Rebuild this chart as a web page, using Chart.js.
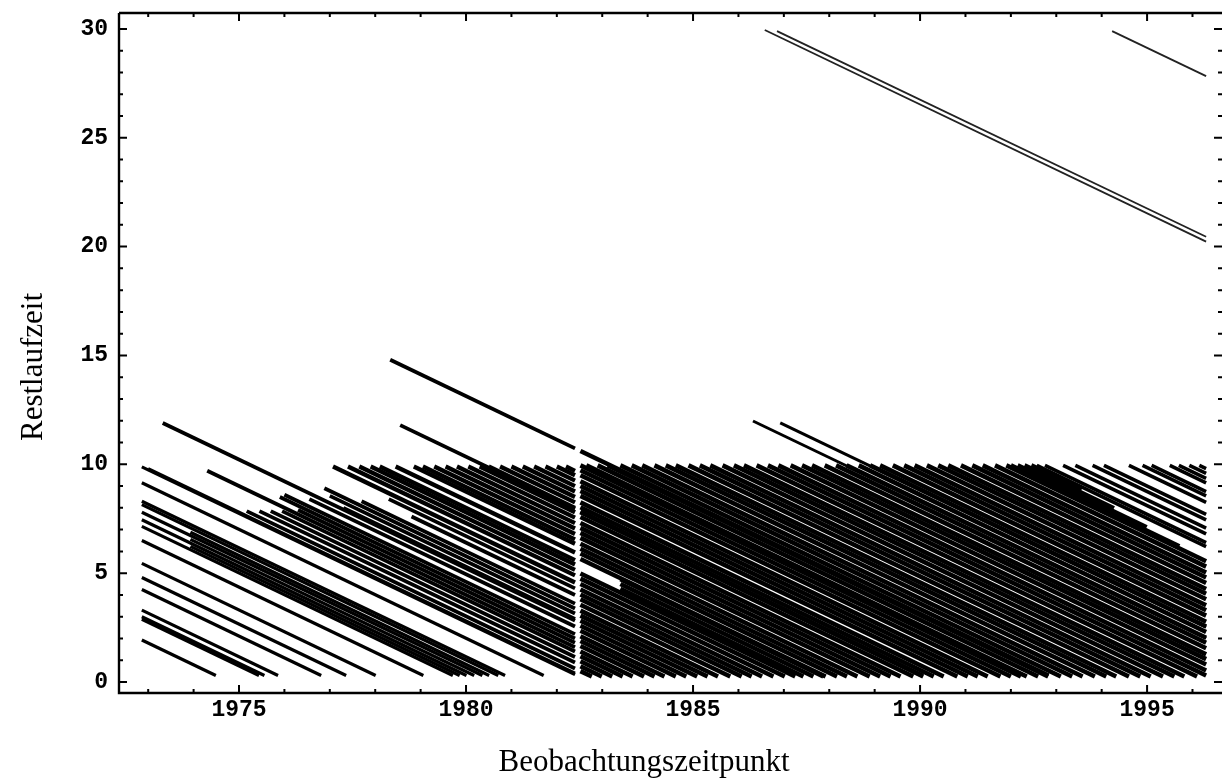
<!DOCTYPE html>
<html>
<head>
<meta charset="utf-8">
<script src="https://cdn.jsdelivr.net/npm/chart.js@4.4.1/dist/chart.umd.min.js"></script>
<style>
html,body{margin:0;padding:0;background:#fff;}
canvas{display:block;}
</style>
</head>
<body>
<canvas id="c" width="1224" height="780"></canvas>
<script>
// ---- axis ticks & titles ----
const xMajorTicks = [1975, 1980, 1985, 1990, 1995];
const xMinorTicks = [1973,1974,1975,1976,1977,1978,1979,1980,1981,1982,1983,1984,1985,1986,1987,1988,1989,1990,1991,1992,1993,1994,1995,1996];
const yMajorTicks = [0, 5, 10, 15, 20, 25, 30];
const yMinorTicks = [0,1,2,3,4,5,6,7,8,9,10,11,12,13,14,15,16,17,18,19,20,21,22,23,24,25,26,27,28,29,30];
const xTitle = 'Beobachtungszeitpunkt';
const yTitle = 'Restlaufzeit';

// ---- data: each entry = [startTime, startRestlaufzeit, endTime, endRestlaufzeit] ----
// bonds already outstanding when observation starts (1972/73)
const earlyStockLines = [
  [1972.86, 9.88, 1982.40, 0.34],
  [1973.00, 9.80, 1982.40, 0.40],
  [1972.86, 9.15, 1981.71, 0.30],
  [1972.86, 8.30, 1980.86, 0.30],
  [1972.86, 8.15, 1980.71, 0.30],
  [1973.93, 6.88, 1980.51, 0.30],
  [1972.86, 7.80, 1980.36, 0.30],
  [1973.93, 6.55, 1980.18, 0.30],
  [1972.86, 7.45, 1980.01, 0.30],
  [1973.93, 6.23, 1979.86, 0.30],
  [1972.86, 7.15, 1979.71, 0.30],
  [1972.86, 6.50, 1979.06, 0.30],
  [1972.86, 5.45, 1978.01, 0.30],
  [1972.86, 4.80, 1977.36, 0.30],
  [1972.86, 4.25, 1976.81, 0.30],
  [1972.86, 3.30, 1975.86, 0.30],
  [1972.86, 3.00, 1975.56, 0.30],
  [1972.86, 2.88, 1975.44, 0.30],
  [1972.86, 1.93, 1974.49, 0.30]
];
// other issues before the 1982 break
const earlyIssueLines = [
  [1973.32, 11.90, 1982.40, 2.82],
  [1974.30, 9.70, 1982.40, 1.60],
  [1975.17, 7.85, 1982.40, 0.62],
  [1975.45, 7.85, 1982.40, 0.90],
  [1975.70, 7.85, 1982.40, 1.15],
  [1975.95, 7.85, 1982.40, 1.40],
  [1976.30, 7.90, 1982.40, 1.80],
  [1975.90, 8.50, 1982.40, 2.00],
  [1976.00, 8.60, 1982.40, 2.20],
  [1976.55, 8.40, 1982.40, 2.55],
  [1976.88, 8.90, 1982.40, 3.38],
  [1977.00, 8.55, 1982.40, 3.15],
  [1977.30, 8.00, 1982.40, 2.90],
  [1977.70, 8.30, 1982.40, 3.60],
  [1978.30, 8.40, 1982.40, 4.30],
  [1978.80, 7.60, 1982.40, 4.00],
  [1978.33, 14.80, 1982.40, 10.73],
  [1978.55, 11.80, 1982.40, 7.95]
];
// ten-year issues before the break
const early10yLines = [
  [1977.07, 9.90, 1982.40, 4.57],
  [1977.40, 9.90, 1982.40, 4.90],
  [1977.65, 9.90, 1982.40, 5.15],
  [1977.90, 9.90, 1982.40, 5.40],
  [1978.10, 9.90, 1982.40, 5.60],
  [1978.45, 9.90, 1982.40, 5.95],
  [1978.85, 9.90, 1982.40, 6.35],
  [1979.05, 9.90, 1982.40, 6.55],
  [1979.30, 9.90, 1982.40, 6.80],
  [1979.55, 9.90, 1982.40, 7.05],
  [1979.80, 9.90, 1982.40, 7.30],
  [1980.05, 9.90, 1982.40, 7.55],
  [1980.30, 9.90, 1982.40, 7.80],
  [1980.50, 9.90, 1982.40, 8.00],
  [1980.75, 9.90, 1982.40, 8.25],
  [1981.00, 9.90, 1982.40, 8.50],
  [1981.25, 9.90, 1982.40, 8.75],
  [1981.50, 9.90, 1982.40, 9.00],
  [1981.75, 9.90, 1982.40, 9.25],
  [1982.00, 9.90, 1982.40, 9.50],
  [1982.20, 9.90, 1982.40, 9.70]
];
// bonds outstanding right after the 1982 break
const lateStockLines = [
  [1982.52, 9.95, 1992.22, 0.25],
  [1982.52, 9.73, 1992.00, 0.25],
  [1982.52, 9.50, 1991.77, 0.25],
  [1982.52, 9.22, 1991.49, 0.25],
  [1982.52, 9.00, 1991.27, 0.25],
  [1982.52, 8.78, 1991.05, 0.25],
  [1982.52, 8.55, 1990.82, 0.25],
  [1982.52, 8.25, 1990.52, 0.25],
  [1982.52, 8.03, 1990.30, 0.25],
  [1982.52, 7.80, 1990.07, 0.25],
  [1982.52, 7.58, 1989.85, 0.25],
  [1982.52, 7.30, 1989.57, 0.25],
  [1982.52, 7.08, 1989.35, 0.25],
  [1982.52, 6.85, 1989.12, 0.25],
  [1982.52, 6.62, 1988.89, 0.25],
  [1982.52, 6.35, 1988.62, 0.25],
  [1982.52, 6.12, 1988.39, 0.25],
  [1982.52, 5.90, 1988.17, 0.25],
  [1982.52, 5.65, 1987.92, 0.25],
  [1982.52, 4.98, 1987.25, 0.25],
  [1982.52, 4.75, 1987.02, 0.25],
  [1982.52, 4.50, 1986.77, 0.25],
  [1982.52, 4.25, 1986.52, 0.25],
  [1982.52, 4.02, 1986.29, 0.25],
  [1982.52, 3.80, 1986.07, 0.25],
  [1982.52, 3.55, 1985.82, 0.25],
  [1982.52, 3.28, 1985.55, 0.25],
  [1982.52, 3.05, 1985.32, 0.25],
  [1982.52, 2.82, 1985.09, 0.25],
  [1982.52, 2.58, 1984.85, 0.25],
  [1982.52, 2.35, 1984.62, 0.25],
  [1982.52, 2.10, 1984.37, 0.25],
  [1982.52, 1.88, 1984.15, 0.25],
  [1982.52, 1.65, 1983.92, 0.25],
  [1982.52, 1.40, 1983.67, 0.25],
  [1982.52, 1.18, 1983.45, 0.25],
  [1982.52, 0.95, 1983.22, 0.25],
  [1982.52, 0.72, 1982.99, 0.25],
  [1982.52, 0.50, 1982.77, 0.25],
  [1982.52, 10.61, 1992.83, 0.30],
  [1982.52, 7.83, 1990.05, 0.30],
  [1983.40, 4.72, 1987.87, 0.25],
  [1983.40, 4.50, 1987.65, 0.25],
  [1983.40, 4.28, 1987.43, 0.25]
];
// ten-year issues after the break
const late10yLines = [
  [1982.65, 9.95, 1992.35, 0.25],
  [1982.90, 9.95, 1992.60, 0.25],
  [1983.12, 9.95, 1992.82, 0.25],
  [1983.40, 9.95, 1993.10, 0.25],
  [1983.65, 9.95, 1993.35, 0.25],
  [1983.88, 9.95, 1993.58, 0.25],
  [1984.15, 9.95, 1993.85, 0.25],
  [1984.40, 9.95, 1994.10, 0.25],
  [1984.62, 9.95, 1994.32, 0.25],
  [1984.90, 9.95, 1994.60, 0.25],
  [1985.15, 9.95, 1994.85, 0.25],
  [1985.38, 9.95, 1995.08, 0.25],
  [1985.65, 9.95, 1995.35, 0.25],
  [1985.90, 9.95, 1995.60, 0.25],
  [1986.12, 9.95, 1995.82, 0.25],
  [1986.40, 9.95, 1996.10, 0.25],
  [1986.65, 9.95, 1996.30, 0.30],
  [1986.88, 9.95, 1996.30, 0.53],
  [1987.15, 9.95, 1996.30, 0.80],
  [1987.40, 9.95, 1996.30, 1.05],
  [1987.62, 9.95, 1996.30, 1.27],
  [1987.90, 9.95, 1996.30, 1.55],
  [1988.15, 9.95, 1996.30, 1.80],
  [1988.38, 9.95, 1996.30, 2.03],
  [1988.65, 9.95, 1996.30, 2.30],
  [1988.90, 9.95, 1996.30, 2.55],
  [1989.12, 9.95, 1996.30, 2.77],
  [1989.40, 9.95, 1996.30, 3.05],
  [1989.65, 9.95, 1996.30, 3.30],
  [1989.88, 9.95, 1996.30, 3.53],
  [1990.15, 9.95, 1996.30, 3.80],
  [1990.40, 9.95, 1996.30, 4.05],
  [1990.62, 9.95, 1996.30, 4.27],
  [1990.90, 9.95, 1996.30, 4.55],
  [1991.15, 9.95, 1996.30, 4.80],
  [1991.38, 9.95, 1996.30, 5.03],
  [1991.65, 9.95, 1996.30, 5.30],
  [1991.90, 9.95, 1996.30, 5.55],
  [1992.00, 9.95, 1995.71, 6.24],
  [1992.15, 9.95, 1994.99, 7.11],
  [1992.30, 9.95, 1994.27, 7.98],
  [1992.45, 9.95, 1993.56, 8.84]
];
// separate recent issues (upper right)
const recentIssueLines = [
  [1992.57, 9.95, 1996.30, 6.22],
  [1992.75, 9.95, 1996.30, 6.40],
  [1993.15, 9.95, 1996.30, 6.80],
  [1993.42, 9.95, 1996.30, 7.07],
  [1993.80, 9.95, 1996.30, 7.45],
  [1994.05, 9.95, 1996.30, 7.70],
  [1994.60, 9.95, 1996.30, 8.25],
  [1994.90, 9.95, 1996.30, 8.55],
  [1995.10, 9.95, 1996.30, 8.75],
  [1995.50, 9.95, 1996.30, 9.15],
  [1995.70, 9.95, 1996.30, 9.35],
  [1995.93, 9.95, 1996.30, 9.58],
  [1996.15, 9.95, 1996.30, 9.80]
];
// long maturities (12 and 30 years)
const longIssueLines = [
  [1986.32, 11.99, 1996.30, 2.01],
  [1986.92, 11.90, 1996.30, 2.52]
];
const thirtyYearLines = [
  [1986.58, 29.95, 1996.30, 20.23],
  [1986.85, 29.90, 1996.30, 20.45],
  [1994.23, 29.90, 1996.30, 27.83]
];

const groups = [
  { lines: earlyStockLines, width: 3.2, color: '#000' },
  { lines: earlyIssueLines, width: 3.8, color: '#000' },
  { lines: early10yLines, width: 4.3, color: '#000' },
  { lines: lateStockLines, width: 4.5, color: '#000' },
  { lines: late10yLines, width: 4.5, color: '#000' },
  { lines: recentIssueLines, width: 3.6, color: '#000' },
  { lines: longIssueLines, width: 3, color: '#000' },
  { lines: thirtyYearLines, width: 1.8, color: '#222' }
];

const datasets = [];
groups.forEach(g => {
  g.lines.forEach(l => {
    datasets.push({
      data: [{ x: l[0], y: l[1] }, { x: l[2], y: l[3] }],
      borderColor: g.color,
      backgroundColor: g.color,
      borderWidth: g.width,
      borderCapStyle: 'butt',
      pointRadius: 0,
      pointHoverRadius: 0,
      fill: false,
      tension: 0
    });
  });
});

const framePlugin = {
  id: 'frame',
  afterDraw(chart) {
    const ctx = chart.ctx;
    const a = chart.chartArea;
    const xs = chart.scales.x, ys = chart.scales.y;
    ctx.save();
    ctx.strokeStyle = '#000';
    ctx.lineCap = 'butt';
    ctx.lineWidth = 2.4;
    ctx.beginPath();
    ctx.moveTo(a.left, a.top);
    ctx.lineTo(a.left, a.bottom);
    ctx.lineTo(a.right, a.bottom);
    ctx.moveTo(a.left, a.top);
    ctx.lineTo(a.right, a.top);
    ctx.stroke();
    ctx.lineWidth = 2;
    ctx.beginPath();
    xMinorTicks.forEach(v => {
      const px = xs.getPixelForValue(v);
      const L = xMajorTicks.includes(v) ? 8 : 4;
      ctx.moveTo(px, a.bottom); ctx.lineTo(px, a.bottom - L);
      ctx.moveTo(px, a.top); ctx.lineTo(px, a.top + L);
    });
    yMinorTicks.forEach(v => {
      const py = ys.getPixelForValue(v);
      const L = yMajorTicks.includes(v) ? 8 : 4;
      ctx.moveTo(a.left, py); ctx.lineTo(a.left + L, py);
      ctx.moveTo(a.right, py); ctx.lineTo(a.right - L, py);
    });
    ctx.stroke();
    ctx.fillStyle = '#000';
    ctx.font = '31px "Liberation Serif", "Times New Roman", serif';
    ctx.textAlign = 'center';
    ctx.textBaseline = 'alphabetic';
    ctx.fillText(xTitle, 644, 771);
    ctx.translate(42, 367);
    ctx.rotate(-Math.PI / 2);
    ctx.fillText(yTitle, 0, 0);
    ctx.restore();
  }
};

const tickFont = { family: '"Liberation Mono", "Courier New", monospace', size: 23, weight: 'bold', lineHeight: 1.1 };

new Chart(document.getElementById('c'), {
  type: 'line',
  data: { datasets: datasets },
  options: {
    responsive: false,
    animation: false,
    devicePixelRatio: 1,
    events: [],
    layout: { padding: { left: 0, right: 2, top: 13, bottom: 0 } },
    plugins: { legend: { display: false }, tooltip: { enabled: false }, title: { display: false } },
    scales: {
      x: {
        type: 'linear',
        min: 1972.357,
        max: 1996.65,
        grid: { display: false, drawTicks: false },
        border: { display: false },
        ticks: { color: '#000', font: tickFont, padding: 5, autoSkip: false, maxRotation: 0, includeBounds: false, callback: v => String(v) },
        afterBuildTicks: s => { s.ticks = xMajorTicks.map(v => ({ value: v })); },
        afterFit: s => { s.height = 87; s.paddingLeft = 0; s.paddingRight = 0; }
      },
      y: {
        type: 'linear',
        min: -0.505,
        max: 30.73,
        grid: { display: false, drawTicks: false },
        border: { display: false },
        ticks: { color: '#000', font: tickFont, padding: 11, autoSkip: false, includeBounds: false, callback: v => String(v) },
        afterBuildTicks: s => { s.ticks = yMajorTicks.map(v => ({ value: v })); },
        afterFit: s => { s.width = 119; s.paddingTop = 0; s.paddingBottom = 0; }
      }
    }
  },
  plugins: [framePlugin]
});
</script>
</body>
</html>
